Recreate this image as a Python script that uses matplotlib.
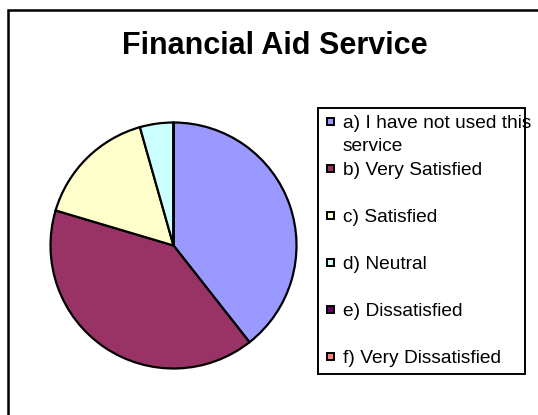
import matplotlib
matplotlib.use("Agg")
import matplotlib.pyplot as plt
from matplotlib.patches import Rectangle

plt.rcParams['font.family'] = ['Liberation Sans', 'DejaVu Sans']

title = "Financial Aid Service"
categories = ["a) I have not used this\nservice", "b) Very Satisfied", "c) Satisfied",
              "d) Neutral", "e) Dissatisfied", "f) Very Dissatisfied"]
values = [39.4, 40.2, 16.0, 4.4, 0.0, 0.0]
colors = ["#9999FF", "#993366", "#FFFFCC", "#CCFFFF", "#660066", "#FF8080"]

W, H = 538, 415
fig = plt.figure(figsize=(W / 100, H / 100), dpi=100)

def fx(px):
    return px / W

def fy(py):
    return 1 - py / H

# outer chart border (left and top visible)
fig.patches.append(Rectangle((fx(8), fy(440)), fx(560) - fx(8), fy(10) - fy(440),
                             transform=fig.transFigure, fill=False, edgecolor='black',
                             linewidth=1.8, clip_on=False))

# pie
cx, cy, r = 173.5, 245.5, 123
ax = fig.add_axes([fx(cx - r), fy(cy + r), 2 * r / W, 2 * r / H])
wedges, _ = ax.pie(values, colors=colors, startangle=90, counterclock=False,
                   wedgeprops=dict(edgecolor='black', linewidth=1.6))
for w in wedges:
    w.set_clip_on(False)
ax.set_xlim(-1, 1)
ax.set_ylim(-1, 1)
ax.set_aspect('equal')
ax.axis('off')

# title
fig.text(fx(274.5), fy(54.5), title, ha='center', va='baseline', fontsize=22,
         fontweight='bold')

# legend box
lx0, ly0, lx1, ly1 = 317.5, 108.5, 525, 374
fig.patches.append(Rectangle((fx(lx0), fy(ly1)), fx(lx1) - fx(lx0), fy(ly0) - fy(ly1),
                             transform=fig.transFigure, fill=False, edgecolor='black',
                             linewidth=1.4))
first_y, step, line_gap = 121.5, 47, 23
for i, (lab, col) in enumerate(zip(categories, colors)):
    yc = first_y + i * step
    fig.patches.append(Rectangle((fx(326.5), fy(yc + 3.8)), 7.6 / W, 7.6 / H,
                                 transform=fig.transFigure, facecolor=col,
                                 edgecolor='black', linewidth=1.4))
    for k, line in enumerate(lab.split("\n")):
        fig.text(fx(343), fy(yc + k * line_gap), line, ha='left',
                 va='center_baseline', fontsize=13.8)

fig.savefig("out.png", dpi=100)
